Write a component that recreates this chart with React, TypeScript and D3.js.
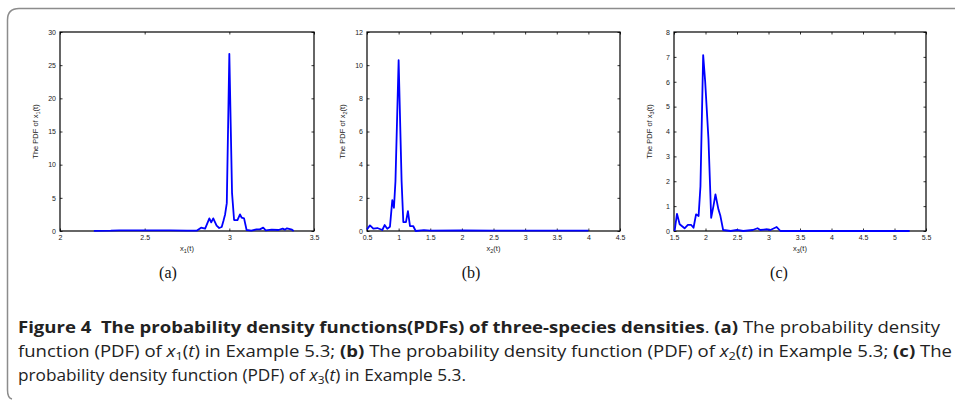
import React, { useEffect, useRef } from 'react';
import * as d3 from 'd3';

// panel (a): PDF of x1(t)
const xA = [2.2, 2.3, 2.35, 2.45, 2.55, 2.65, 2.75, 2.807, 2.833, 2.857, 2.882, 2.893, 2.905, 2.925, 2.94, 2.955, 2.965, 2.975, 2.985, 3.0, 3.016, 3.028, 3.048, 3.063, 3.073, 3.087, 3.102, 3.13, 3.16, 3.18, 3.2, 3.215, 3.25, 3.29, 3.315, 3.328, 3.34, 3.37, 3.38];
const yA = [0.02, 0.05, 0.1, 0.1, 0.08, 0.08, 0.05, 0.05, 0.5, 0.35, 1.9, 1.3, 1.9, 0.8, 0.45, 0.6, 1.5, 2.5, 4.2, 26.7, 5.7, 1.65, 1.65, 2.5, 2.0, 1.9, 0.15, 0.05, 0.25, 0.25, 0.5, 0.1, 0.2, 0.15, 0.35, 0.2, 0.4, 0.2, 0.0];

// panel (b): PDF of x2(t)
const xB = [0.5, 0.547, 0.6, 0.663, 0.742, 0.779, 0.82, 0.863, 0.9, 0.926, 0.95, 1.0, 1.047, 1.074, 1.116, 1.147, 1.18, 1.23, 1.27, 1.4, 1.5, 2.0, 2.5, 3.0, 3.5, 4.0];
const yB = [0.1, 0.34, 0.14, 0.18, 0.06, 0.36, 0.14, 0.26, 1.86, 1.4, 3.0, 10.3, 3.0, 0.54, 0.54, 1.2, 0.3, 0.3, 0.0, 0.05, 0.02, 0.03, 0.02, 0.02, 0.02, 0.02];

// panel (c): PDF of x3(t)
const xC = [1.51, 1.547, 1.59, 1.668, 1.72, 1.77, 1.81, 1.85, 1.89, 1.92, 1.963, 1.995, 2.047, 2.09, 2.126, 2.158, 2.205, 2.237, 2.28, 2.4, 2.5, 2.6, 2.75, 2.826, 2.87, 2.98, 3.03, 3.13, 3.19, 3.5, 4.0, 4.5, 5.0, 5.24];
const yC = [0.0, 0.69, 0.27, 0.11, 0.25, 0.25, 0.13, 0.67, 0.6, 1.8, 7.07, 6.0, 3.7, 0.53, 1.0, 1.47, 0.87, 0.6, 0.04, 0.0, 0.04, 0.0, 0.04, 0.11, 0.04, 0.07, 0.04, 0.16, 0.0, 0.0, 0.0, 0.0, 0.0, 0.0];

const ticksA = [2, 2.5, 3, 3.5];
const ticksAy = [0, 5, 10, 15, 20, 25, 30];
const ticksB = [0.5, 1, 1.5, 2, 2.5, 3, 3.5, 4, 4.5];
const ticksBy = [0, 2, 4, 6, 8, 10, 12];
const ticksC = [1.5, 2, 2.5, 3, 3.5, 4, 4.5, 5, 5.5];
const ticksCy = [0, 1, 2, 3, 4, 5, 6, 7, 8];

const panels = [
  { xs: xA, ys: yA, xd: [2, 3.5], yd: [0, 30], xt: ticksA, yt: ticksAy, sub: '1', tag: '(a)', left: 60, right: 314, tagX: 168 },
  { xs: xB, ys: yB, xd: [0.5, 4.5], yd: [0, 12], xt: ticksB, yt: ticksBy, sub: '2', tag: '(b)', left: 367, right: 620, tagX: 471 },
  { xs: xC, ys: yC, xd: [1.5, 5.5], yd: [0, 8], xt: ticksC, yt: ticksCy, sub: '3', tag: '(c)', left: 674, right: 926, tagX: 779 },
];

const TOP = 32;
const BOTTOM = 231;

export default function App() {
  const ref = useRef<SVGSVGElement>(null);

  useEffect(() => {
    const svg = d3.select(ref.current);
    svg.selectAll('.panel').remove();

    panels.forEach(p => {
      const g = svg.append('g').attr('class', 'panel');
      const x = d3.scaleLinear().domain(p.xd).range([p.left, p.right]);
      const y = d3.scaleLinear().domain(p.yd).range([BOTTOM, TOP]);
      const fmt = (d: any) => String(d);

      const axes = [
        { a: d3.axisBottom(x).tickValues(p.xt).tickFormat(fmt), t: `translate(0,${BOTTOM})` },
        { a: d3.axisTop(x).tickValues(p.xt).tickFormat(() => ''), t: `translate(0,${TOP})` },
        { a: d3.axisLeft(y).tickValues(p.yt).tickFormat(fmt), t: `translate(${p.left},0)` },
        { a: d3.axisRight(y).tickValues(p.yt).tickFormat(() => ''), t: `translate(${p.right},0)` },
      ];
      axes.forEach(ax => {
        const ag = g.append('g').attr('transform', ax.t)
          .call(ax.a.tickSizeInner(-2.5).tickSizeOuter(0).tickPadding(4) as any);
        ag.select('.domain').remove();
        ag.selectAll('line').attr('stroke', '#000').attr('stroke-width', 0.8);
        ag.selectAll('text')
          .attr('font-family', '"Liberation Sans", Arial, sans-serif')
          .attr('font-size', 7)
          .attr('fill', '#222');
      });

      g.append('rect')
        .attr('x', p.left).attr('y', TOP)
        .attr('width', p.right - p.left).attr('height', BOTTOM - TOP)
        .attr('fill', 'none').attr('stroke', '#000').attr('stroke-width', 1.2);

      const line = d3.line<number>()
        .x((d, i) => x(p.xs[i]))
        .y(d => y(d));
      g.append('path')
        .attr('d', line(p.ys))
        .attr('fill', 'none')
        .attr('stroke', '#0000ff')
        .attr('stroke-width', 1.8)
        .attr('stroke-linejoin', 'round');

      // x label
      const xl = g.append('text')
        .attr('x', (p.left + p.right) / 2)
        .attr('y', 251)
        .attr('text-anchor', 'middle')
        .attr('font-family', '"Liberation Sans", Arial, sans-serif')
        .attr('font-size', 7.5)
        .attr('fill', '#222');
      xl.append('tspan').text('x');
      xl.append('tspan').attr('dy', 2).attr('font-size', 5.5).text(p.sub);
      xl.append('tspan').attr('dy', -2).text('(t)');

      // y label
      const yl = g.append('text')
        .attr('transform', `translate(${p.left - 22},${(TOP + BOTTOM) / 2}) rotate(-90)`)
        .attr('text-anchor', 'middle')
        .attr('font-family', '"Liberation Sans", Arial, sans-serif')
        .attr('font-size', 7.5)
        .attr('fill', '#222');
      yl.append('tspan').text('The PDF of x');
      yl.append('tspan').attr('dy', 2).attr('font-size', 5.5).text(p.sub);
      yl.append('tspan').attr('dy', -2).text('(t)');

      g.append('text')
        .attr('x', p.tagX)
        .attr('y', 278)
        .attr('text-anchor', 'middle')
        .attr('font-family', '"Liberation Serif", "Times New Roman", serif')
        .attr('font-size', 16)
        .attr('fill', '#111')
        .text(p.tag);
    });
  }, []);

  const cap = { fontFamily: '"Open Sans", sans-serif', fontSize: 16, fill: '#222' };

  return (
    <div style={{ position: 'absolute', left: 0, top: 0 }}>
      <svg ref={ref} width={955} height={402} style={{ display: 'block', background: '#fff' }}>
        <path d="M 955 8.5 H 19 Q 7.5 8.5 7.5 20 V 390 Q 7.5 398 12 399" fill="none" stroke="#8c8c8c" strokeWidth={1.5} />
        <text x={18} y={333} textLength={922} lengthAdjust="spacingAndGlyphs" style={cap}>
          <tspan fontWeight="bold">{'Figure 4\u00a0 The probability density functions(PDFs) of three-species densities'}</tspan>
          <tspan>. </tspan>
          <tspan fontWeight="bold">(a)</tspan>
          <tspan> The probability density</tspan>
        </text>
        <text x={18} y={357} textLength={934} lengthAdjust="spacingAndGlyphs" style={cap}>
          <tspan>function (PDF) of </tspan>
          <tspan fontStyle="italic">x</tspan>
          <tspan fontSize={11} dy={3}>1</tspan>
          <tspan dy={-3}>(</tspan>
          <tspan fontStyle="italic">t</tspan>
          <tspan>) in Example 5.3; </tspan>
          <tspan fontWeight="bold">(b)</tspan>
          <tspan> The probability density function (PDF) of </tspan>
          <tspan fontStyle="italic">x</tspan>
          <tspan fontSize={11} dy={3}>2</tspan>
          <tspan dy={-3}>(</tspan>
          <tspan fontStyle="italic">t</tspan>
          <tspan>) in Example 5.3; </tspan>
          <tspan fontWeight="bold">(c)</tspan>
          <tspan> The</tspan>
        </text>
        <text x={18} y={381} textLength={448} lengthAdjust="spacingAndGlyphs" style={cap}>
          <tspan>probability density function (PDF) of </tspan>
          <tspan fontStyle="italic">x</tspan>
          <tspan fontSize={11} dy={3}>3</tspan>
          <tspan dy={-3}>(</tspan>
          <tspan fontStyle="italic">t</tspan>
          <tspan>) in Example 5.3.</tspan>
        </text>
      </svg>
    </div>
  );
}
